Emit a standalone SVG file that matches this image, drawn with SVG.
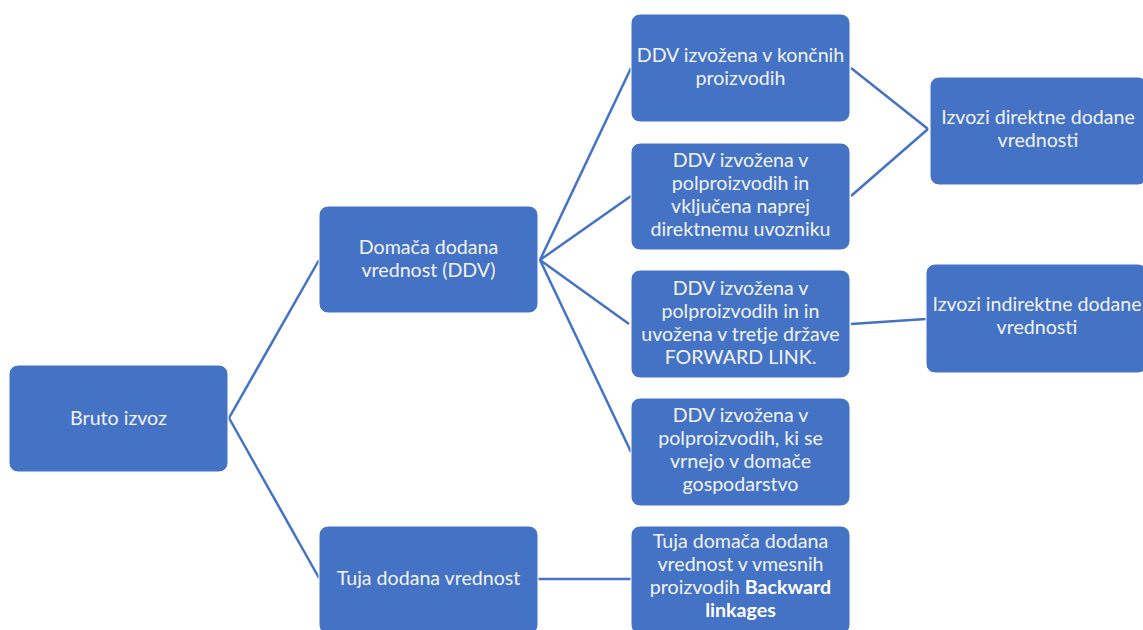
<svg xmlns="http://www.w3.org/2000/svg" width="1143" height="630" viewBox="0 0 1143 630">
<style>
.box{fill:#4472C4;stroke:#ffffff;stroke-width:1}
.t{font-family:Lato,"Open Sans",sans-serif;font-size:19.6px;fill:#f2f2f2;text-anchor:middle}
.b{font-weight:bold;fill:#ffffff}
.c{stroke:#4472C4;stroke-width:2.5;fill:none}
</style>
<rect width="1143" height="630" fill="#ffffff"/>
<g id="connectors">
<line class="c" x1="229" y1="418" x2="319" y2="260"/>
<line class="c" x1="229" y1="418" x2="319" y2="578"/>
<line class="c" x1="540" y1="260" x2="631" y2="68"/>
<line class="c" x1="540" y1="260" x2="631" y2="196"/>
<line class="c" x1="540" y1="260" x2="629" y2="324"/>
<line class="c" x1="540" y1="260" x2="631" y2="452"/>
<line class="c" x1="851" y1="68" x2="928" y2="129"/>
<line class="c" x1="851" y1="196" x2="928" y2="129"/>
<line class="c" x1="851" y1="324" x2="926" y2="319"/>
<line class="c" x1="538" y1="579" x2="631" y2="579"/>
</g>
<g id="bruto">
<rect class="box" x="9" y="365" width="219" height="107" rx="9"/>
<text class="t" x="118.5" y="425">Bruto izvoz</text>
</g>
<g id="domaca">
<rect class="box" x="319" y="206" width="219" height="107" rx="9"/>
<text class="t" x="428.5" y="254">Domača dodana</text>
<text class="t" x="428.5" y="277">vrednost (DDV)</text>
</g>
<g id="tuja">
<rect class="box" x="319" y="526" width="219" height="108" rx="9"/>
<text class="t" x="428.5" y="585">Tuja dodana vrednost</text>
</g>
<g id="koncni">
<rect class="box" x="631" y="14" width="219" height="108" rx="9"/>
<text class="t" x="740.5" y="62">DDV izvožena v končnih</text>
<text class="t" x="740.5" y="85">proizvodih</text>
</g>
<g id="vkljucena">
<rect class="box" x="631" y="143" width="219" height="107" rx="9"/>
<text class="t" x="740.5" y="167">DDV izvožena v</text>
<text class="t" x="740.5" y="190">polproizvodih in</text>
<text class="t" x="740.5" y="213">vključena naprej</text>
<text class="t" x="740.5" y="236">direktnemu uvozniku</text>
</g>
<g id="forward">
<rect class="box" x="631" y="270" width="219" height="108" rx="9"/>
<text class="t" x="740.5" y="295">DDV izvožena v</text>
<text class="t" x="740.5" y="318">polproizvodih in in</text>
<text class="t" x="740.5" y="341">uvožena v tretje države</text>
<text class="t" x="740.5" y="364">FORWARD LINK.</text>
</g>
<g id="vrnejo">
<rect class="box" x="631" y="398" width="219" height="108" rx="9"/>
<text class="t" x="740.5" y="422">DDV izvožena v</text>
<text class="t" x="740.5" y="445">polproizvodih, ki se</text>
<text class="t" x="740.5" y="468">vrnejo v domače</text>
<text class="t" x="740.5" y="491">gospodarstvo</text>
</g>
<g id="backward">
<rect class="box" x="631" y="526" width="219" height="108" rx="9"/>
<text class="t" x="740.5" y="548">Tuja domača dodana</text>
<text class="t" x="740.5" y="571">vrednost v vmesnih</text>
<text class="t" x="740.5" y="594">proizvodih <tspan class="b">Backward</tspan></text>
<text class="t b" x="740.5" y="617">linkages</text>
</g>
<g id="direktne">
<rect class="box" x="930" y="77" width="217" height="108" rx="9"/>
<text class="t" x="1038" y="124">Izvozi direktne dodane</text>
<text class="t" x="1038" y="147">vrednosti</text>
</g>
<g id="indirektne">
<rect class="box" x="926" y="264" width="221" height="109" rx="9"/>
<text class="t" x="1037" y="311">Izvozi indirektne dodane</text>
<text class="t" x="1037" y="334">vrednosti</text>
</g>
</svg>
